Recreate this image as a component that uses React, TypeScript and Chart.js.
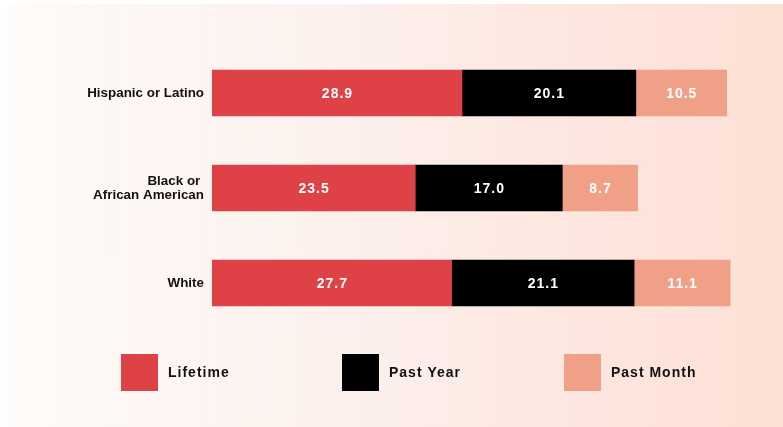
import React, { useEffect, useRef } from "react";
import { Chart, registerables } from "chart.js";

Chart.register(...registerables);

const categories: (string | string[])[] = ["Hispanic or Latino", ["Black or ", "African American"], "White"];
const seriesNames = ["Lifetime", "Past Year", "Past Month"];
const lifetime = [28.9, 23.5, 27.7];
const pastYear = [20.1, 17.0, 21.1];
const pastMonth = [10.5, 8.7, 11.1];
const seriesColors = ["#de4146", "#000000", "#efa086"];
const xMin = 0;
const xMax = 60;

const FONT = '"Liberation Sans", Arial, Helvetica, sans-serif';

const barLabels = {
  id: "barLabels",
  afterDatasetsDraw(chart: any) {
    const ctx = chart.ctx;
    ctx.save();
    ctx.font = `bold 14px ${FONT}`;
    try { ctx.letterSpacing = "1px"; } catch (e) {}
    ctx.fillStyle = "#ffffff";
    ctx.textAlign = "center";
    ctx.textBaseline = "middle";
    chart.data.datasets.forEach((ds: any, i: number) => {
      const meta = chart.getDatasetMeta(i);
      meta.data.forEach((bar: any, j: number) => {
        const p = bar.getProps(["x", "y", "base"], true);
        const cx = (p.x + p.base) / 2 + 0.5;
        ctx.fillText(Number(ds.data[j]).toFixed(1), cx, p.y + 1);
      });
    });
    ctx.restore();
  },
};

const boxLegend = {
  id: "boxLegend",
  afterDraw(chart: any, _args: any, opts: any) {
    const ctx = chart.ctx;
    const xs: number[] = opts.xs;
    const y: number = opts.y;
    const size: number = opts.size;
    ctx.save();
    ctx.font = `bold 14px ${FONT}`;
    try { ctx.letterSpacing = "1px"; } catch (e) {}
    ctx.textAlign = "left";
    ctx.textBaseline = "middle";
    chart.data.datasets.forEach((ds: any, i: number) => {
      const x = xs[i];
      ctx.fillStyle = ds.backgroundColor;
      ctx.fillRect(x, y, size, size);
      ctx.fillStyle = "#111111";
      ctx.fillText(ds.label, x + size + 10, y + size / 2 + 1);
    });
    ctx.restore();
  },
};

export default function App() {
  const ref = useRef<HTMLCanvasElement | null>(null);

  useEffect(() => {
    if (!ref.current) return;
    const values = [lifetime, pastYear, pastMonth];
    const chart = new Chart(ref.current, {
      type: "bar",
      data: {
        labels: categories as any,
        datasets: seriesNames.map((name, i) => ({
          label: name,
          data: values[i],
          backgroundColor: seriesColors[i],
          borderWidth: 0,
          barThickness: 46,
        })),
      },
      options: {
        indexAxis: "y",
        responsive: false,
        animation: false,
        events: [],
        devicePixelRatio: 1,
        layout: { padding: { top: 45.5, bottom: 96.5, left: 0, right: 52 } },
        scales: {
          x: { stacked: true, display: false, min: xMin, max: xMax },
          y: {
            stacked: true,
            grid: { display: false, drawTicks: false },
            border: { display: false },
            ticks: {
              padding: 8,
              color: "#111111",
              font: { family: FONT, size: 13.4, weight: "bold", lineHeight: 1.05 },
            },
            afterFit: (scale: any) => {
              scale.width = 212;
            },
          },
        },
        plugins: {
          legend: { display: false },
          tooltip: { enabled: false },
          boxLegend: { xs: [121, 342, 564], y: 354, size: 37 },
        } as any,
      },
      plugins: [barLabels, boxLegend],
    });
    return () => chart.destroy();
  }, []);

  return (
    <div style={{ position: "fixed", left: 0, top: 0, width: 783, height: 427, background: "#ffffff", overflow: "hidden" }}>
      <div
        style={{
          position: "absolute",
          left: 8,
          top: 4,
          right: 0,
          bottom: 0,
          background:
            "linear-gradient(to right, #fffbf8 0%, #fdf6f3 20%, #fcf0ec 45%, #fde9e3 65%, #fde3dc 85%, #fbe1d3 100%)",
        }}
      />
      <canvas ref={ref} width={783} height={427} style={{ position: "absolute", left: 0, top: 0, width: 783, height: 427 }} />
    </div>
  );
}
